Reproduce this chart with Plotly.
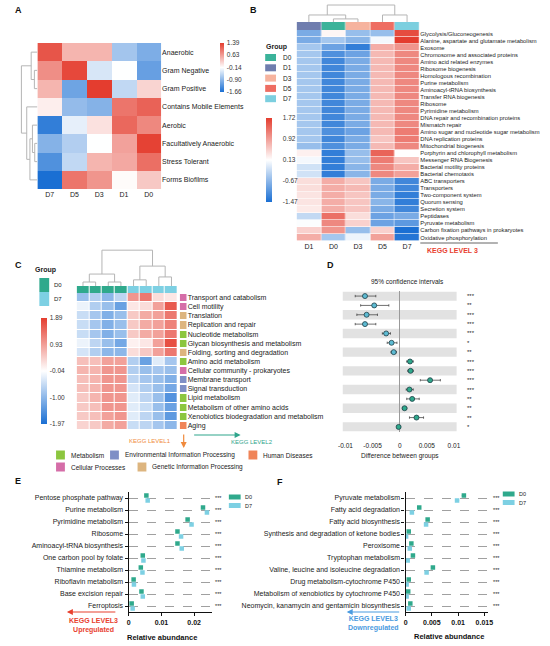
import plotly.graph_objects as go

W, H = 550, 646
FONT = 'Arial, Liberation Sans, sans-serif'

# ---------------- Panel A : phenotype heatmap ----------------
a_cols = ['D7', 'D5', 'D3', 'D1', 'D0']
a_rows = ['Anaerobic', 'Gram Negative', 'Gram Positive', 'Contains Mobile Elements',
          'Aerobic', 'Facultatively Anaerobic', 'Stress Tolerant', 'Forms Biofilms']
a_z = [
    [1.20, 0.45, 0.45, -0.75, -1.00],
    [0.75, 1.30, -0.40, -0.14, -1.15],
    [0.45, -1.10, 1.39, -0.55, 0.20],
    [0.00, -0.85, -0.95, 0.95, 1.10],
    [-1.50, -0.30, 0.10, 1.05, 0.80],
    [-0.95, -0.65, -0.14, 0.60, 1.35],
    [-1.30, -0.55, 0.45, 0.55, 1.00],
    [-1.66, 0.95, 0.70, -0.10, 0.30],
]
a_ticks = [1.39, 0.63, -0.14, -0.90, -1.66]
a_link = [(1, 2, 0.17), (0, 8, 0.35), (5, 6, 0.15), (4, 10, 0.28),
          (11, 7, 0.42), (3, 12, 0.60), (9, 13, 0.90)]

# ---------------- Panel B : KEGG level 3 heatmap ----------------
groups = ['D0', 'D1', 'D3', 'D5', 'D7']
group_colors = ['#3BB39A', '#6F7DAE', '#F6B39E', '#EE6D62', '#7CCFDF']
b_cols = ['D1', 'D0', 'D3', 'D5', 'D7']
b_rows = ['Glycolysis/Gluconeogenesis', 'Alanine, aspartate and glutamate metabolism', 'Exosome',
          'Chromosome and associated proteins', 'Amino acid related enzymes', 'Ribosome biogenesis',
          'Homologous recombination', 'Purine metabolism', 'Aminoacyl-tRNA biosynthesis',
          'Transfer RNA biogenesis', 'Ribosome', 'Pyrimidine metabolism',
          'DNA repair and recombination proteins', 'Mismatch repair',
          'Amino sugar and nucleotide sugar metabolism', 'DNA replication proteins',
          'Mitochondrial biogenesis', 'Porphyrin and chlorophyll metabolism',
          'Messenger RNA Biogenesis', 'Bacterial motility proteins', 'Bacterial chemotaxis',
          'ABC transporters', 'Transporters', 'Two-component system', 'Quorum sensing',
          'Secretion system', 'Peptidases', 'Pyruvate metabolism',
          'Carbon fixation pathways in prokaryotes', 'Oxidative phosphorylation']
b_z = [
    [-0.80, 0.20, -0.60, -0.60, 1.60],
    [-0.80, -0.50, -0.70, 0.05, 1.72],
    [-0.50, -0.90, -1.30, 0.80, 1.00],
    [-0.50, -1.10, -0.90, 0.70, 1.10],
    [-0.50, -1.20, -0.80, 0.70, 1.10],
    [-0.50, -1.20, -0.80, 0.70, 1.10],
    [-0.50, -1.20, -0.80, 0.70, 1.10],
    [-0.50, -1.20, -0.80, 0.70, 1.10],
    [-0.50, -1.20, -0.80, 0.70, 1.10],
    [-0.50, -1.20, -0.80, 0.70, 1.10],
    [-0.50, -1.20, -0.80, 0.70, 1.10],
    [-0.50, -1.20, -0.80, 0.70, 1.10],
    [-0.50, -1.20, -0.80, 0.70, 1.10],
    [-0.50, -1.20, -0.80, 0.70, 1.10],
    [-0.50, -1.10, -0.90, 0.70, 1.20],
    [-0.50, -1.20, -0.80, 0.60, 1.20],
    [-0.60, -1.10, -0.80, 0.70, 1.10],
    [0.25, -1.30, -0.60, 1.40, 0.13],
    [0.05, -1.30, -0.60, 1.20, 0.60],
    [-0.20, -1.30, -0.70, 1.10, 0.80],
    [-0.20, -1.30, -0.70, 1.10, 0.90],
    [0.40, 0.80, 0.60, -0.80, -1.20],
    [0.40, 0.80, 0.70, -0.80, -1.20],
    [0.35, 0.80, 0.60, -0.80, -1.30],
    [0.35, 0.80, 0.60, -0.70, -1.30],
    [0.30, 0.80, 0.60, -0.80, -1.20],
    [-0.30, 1.30, 0.40, -0.90, -0.80],
    [0.10, 1.10, 0.50, -0.90, -1.00],
    [0.50, 1.00, -0.60, 0.50, -1.47],
    [0.80, -0.50, 0.00, 0.90, -1.40],
]
b_ticks = [1.72, 0.92, 0.13, -0.67, -1.47]
b_link = [(1, 2, 0.18), (0, 5, 0.41), (3, 4, 0.41), (6, 7, 0.99)]

# ---------------- Panel C : KEGG level 2 heatmap ----------------
categories = ['Metabolism', 'Environmental Information Processing', 'Human Diseases',
              'Cellular Processes', 'Genetic Information Processing']
cat_colors = ['#8CC63F', '#7F8FC6', '#F08458', '#D56DA8', '#DDB57F']
c_samples = ['D0_1', 'D0_2', 'D0_3', 'D0_4', 'D7_1', 'D7_2', 'D7_3', 'D7_4']
c_sample_group = ['D0', 'D0', 'D0', 'D0', 'D7', 'D7', 'D7', 'D7']
c_rows = ['Transport and catabolism', 'Cell motility', 'Translation', 'Replication and repair',
          'Nucleotide metabolism', 'Glycan biosynthesis and metabolism',
          'Folding, sorting and degradation', 'Amino acid metabolism',
          'Cellular community - prokaryotes', 'Membrane transport', 'Signal transduction',
          'Lipid metabolism', 'Metabolism of other amino acids',
          'Xenobiotics biodegradation and metabolism', 'Aging']
c_row_cat = ['Cellular Processes', 'Cellular Processes', 'Genetic Information Processing',
             'Genetic Information Processing', 'Metabolism', 'Metabolism',
             'Genetic Information Processing', 'Metabolism', 'Cellular Processes',
             'Environmental Information Processing', 'Environmental Information Processing',
             'Metabolism', 'Metabolism', 'Metabolism', 'Human Diseases']
c_z = [
    [-0.90, -0.70, -1.00, -0.60, 1.00, 1.30, 0.30, 0.20],
    [-0.20, -0.70, -0.90, -1.30, 0.20, 0.30, 0.90, 1.60],
    [-0.50, -0.80, -1.10, -0.90, 0.50, 0.80, 0.90, 1.30],
    [-0.50, -0.80, -1.10, -0.90, 0.50, 0.80, 0.90, 1.20],
    [-0.50, -0.80, -1.10, -0.90, 0.50, 0.80, 0.90, 1.30],
    [-0.20, -0.60, -0.90, -1.20, 0.10, 0.20, 0.90, 1.70],
    [-0.40, -0.70, -1.00, -1.00, 0.30, 0.50, 0.90, 1.30],
    [0.60, 0.60, 0.90, 0.90, -0.70, -1.30, -0.30, -0.80],
    [0.70, 0.70, 1.00, 1.00, -0.70, -0.90, -0.80, -0.90],
    [0.60, 0.70, 1.00, 1.00, -0.60, -0.80, -0.90, -1.10],
    [0.60, 0.70, 1.00, 1.00, -0.40, -0.70, -0.90, -1.20],
    [0.50, 0.70, 1.00, 1.00, -0.30, -0.60, -0.90, -1.50],
    [0.50, 0.60, 1.00, 1.00, -0.30, -0.50, -0.90, -1.30],
    [0.50, 0.60, 0.90, 1.00, -0.30, -0.60, -0.90, -1.40],
    [0.40, 0.50, 0.80, 0.90, -0.50, -0.60, -0.80, -1.00],
]
c_ticks = [1.89, 0.93, -0.04, -1.00, -1.97]
c_link = [(0, 1, 0.11), (2, 3, 0.11), (8, 9, 0.33), (4, 5, 0.17),
          (6, 7, 0.25), (11, 12, 0.55), (10, 13, 0.99)]

# ---------------- Panel D : 95% CI of differences ----------------
d_mean = [-0.0064, -0.0047, -0.0061, -0.0064, -0.0025, -0.0015, -0.0011,
          0.0019, 0.0020, 0.0056, 0.0018, 0.0023, 0.0009, 0.0031, -0.0002]
d_low = [-0.0082, -0.0072, -0.0079, -0.0082, -0.0032, -0.0023, -0.0016,
         0.0013, 0.0015, 0.0038, 0.0012, 0.0013, 0.0005, 0.0018, -0.0004]
d_high = [-0.0044, -0.0020, -0.0041, -0.0044, -0.0017, -0.0005, -0.0006,
          0.0025, 0.0025, 0.0075, 0.0025, 0.0036, 0.0013, 0.0044, 0.0000]
d_group = ['D7'] * 7 + ['D0'] * 8
d_sig = ['***', '**', '***', '***', '***', '*', '**', '***', '***', '***', '***', '**', '**', '**', '*']

# ---------------- Panel E : upregulated level 3 ----------------
e_rows = ['Pentose phosphate pathway', 'Purine metabolism', 'Pyrimidine metabolism', 'Ribosome',
          'Aminoacyl-tRNA biosynthesis', 'One carbon pool by folate', 'Thiamine metabolism',
          'Riboflavin metabolism', 'Base excision repair', 'Ferroptosis']
e_d0 = [0.0054, 0.0227, 0.0180, 0.0149, 0.0149, 0.0043, 0.0037, 0.0015, 0.0039, 0.0009]
e_d7 = [0.0058, 0.0239, 0.0192, 0.0160, 0.0162, 0.0045, 0.0042, 0.0016, 0.0043, 0.0012]
e_err = [0.0003, 0.0004, 0.0003, 0.0003, 0.0003, 0.0002, 0.0002, 0.0002, 0.0002, 0.0002]
e_sig = ['***'] * 10

# ---------------- Panel F : downregulated level 3 ----------------
f_rows = ['Pyruvate metabolism', 'Fatty acid degradation', 'Fatty acid biosynthesis',
          'Synthesis and degradation of ketone bodies', 'Peroxisome', 'Tryptophan metabolism',
          'Valine, leucine and isoleucine degradation', 'Drug metabolism-cytochrome P450',
          'Metabolism of xenobiotics by cytochrome P450',
          'Neomycin, kanamycin and gentamicin biosynthesis']
f_d0 = [0.0111, 0.0026, 0.0042, 0.0006, 0.0011, 0.0014, 0.0052, 0.0006, 0.0005, 0.0009]
f_d7 = [0.0098, 0.0012, 0.0039, 0.0001, 0.0008, 0.0004, 0.0040, 0.0002, 0.0002, 0.0006]
f_err = [0.0004, 0.0002, 0.0002, 0.0001, 0.0001, 0.0001, 0.0002, 0.0001, 0.0001, 0.0001]
f_sig = ['***'] * 10

HEAT = [[0, '#1A6FD3'], [0.5, '#FFFFFF'], [1, '#E43D2F']]
TEAL, CYAN = '#2FA98C', '#7DD0E3'


def px(x):
    return x / W


def py(y):
    return 1 - y / H


def disc_scale(colors):
    n = len(colors) - 1
    return [[i / n, c] for i, c in enumerate(colors)]


def dendro(n, links):
    """Return U-shaped line coords for a linkage list of (a, b, height)."""
    pos = list(range(n))
    hgt = [0.0] * n
    xs, ys = [], []
    for a, b, h in links:
        xs += [pos[a], pos[a], pos[b], pos[b], None]
        ys += [hgt[a], h, h, hgt[b], None]
        pos.append((pos[a] + pos[b]) / 2)
        hgt.append(h)
    return xs, ys


def cbar(x, top, length, thick, ticks, ticklen=0):
    return dict(x=px(x), xanchor='left', y=py(top), yanchor='top', len=length, lenmode='pixels',
                thickness=thick, thicknessmode='pixels', xpad=0, ypad=0, outlinewidth=0,
                tickvals=ticks, ticktext=['%.2f' % t for t in ticks], ticks='outside',
                ticklen=ticklen, tickcolor='rgba(0,0,0,0)', tickfont=dict(size=6.5, color='#333'))


fig = go.Figure()
layout = {}


def axes(n, x0, x1, y0, y1, xa=None, ya=None):
    sx = '' if n == 1 else str(n)
    base = dict(showgrid=False, zeroline=False, showline=False, ticks='', showticklabels=False,
                fixedrange=True)
    xd = dict(base, domain=[px(x0), px(x1)], anchor='y' + sx)
    yd = dict(base, domain=[py(y1), py(y0)], anchor='x' + sx)
    xd.update(xa or {})
    yd.update(ya or {})
    layout['xaxis' + sx] = xd
    layout['yaxis' + sx] = yd
    return 'x' + sx, 'y' + sx


GRAYLINE = dict(color='#B5B5B5', width=1)

# ---- A ----
xa, ya = axes(1, 33, 159, 43, 189,
              dict(showticklabels=True, tickfont=dict(size=7)),
              dict(showticklabels=True, side='right', autorange='reversed', tickfont=dict(size=7)))
fig.add_trace(go.Heatmap(z=a_z, x=a_cols, y=a_rows, xaxis=xa, yaxis=ya, colorscale=HEAT,
                         zmin=min(a_ticks), zmax=max(a_ticks),
                         colorbar=cbar(219, 43, 49, 4, a_ticks, 2)))
xa, ya = axes(2, 14, 33, 43, 189, dict(range=[1.05, 0]), dict(range=[len(a_rows) - 0.5, -0.5]))
hx, hy = dendro(len(a_rows), a_link)
fig.add_trace(go.Scatter(x=hy, y=hx, xaxis=xa, yaxis=ya, mode='lines', line=GRAYLINE,
                         showlegend=False, hoverinfo='skip'))

# ---- B ----
xa, ya = axes(3, 297, 422, 30, 241,
              dict(showticklabels=True, tickfont=dict(size=7)),
              dict(showticklabels=True, side='right', autorange='reversed', tickfont=dict(size=5.8)))
fig.add_trace(go.Heatmap(z=b_z, x=b_cols, y=b_rows, xaxis=xa, yaxis=ya, colorscale=HEAT,
                         zmin=min(b_ticks), zmax=max(b_ticks), xgap=0.5, ygap=0.6,
                         colorbar=cbar(266, 118, 84, 6, b_ticks, 10)))
xa, ya = axes(4, 297, 422, 22, 30)
fig.add_trace(go.Heatmap(z=[[groups.index(c) for c in b_cols]], x=b_cols, y=['group'],
                         xaxis=xa, yaxis=ya, colorscale=disc_scale(group_colors), zmin=0,
                         zmax=len(groups) - 1, showscale=False, xgap=0.5))
xa, ya = axes(5, 297, 422, 4, 22, dict(range=[-0.5, len(b_cols) - 0.5]), dict(range=[0, 1.05]))
dx, dy = dendro(len(b_cols), b_link)
fig.add_trace(go.Scatter(x=dx, y=dy, xaxis=xa, yaxis=ya, mode='lines', line=GRAYLINE,
                         showlegend=False, hoverinfo='skip'))

# ---- C ----
xa, ya = axes(6, 73, 176, 293, 430, None, dict(autorange='reversed'))
fig.add_trace(go.Heatmap(z=c_z, x=c_samples, y=c_rows, xaxis=xa, yaxis=ya, colorscale=HEAT,
                         zmin=min(c_ticks), zmax=max(c_ticks), xgap=1, ygap=1,
                         colorbar=cbar(37, 318, 106, 6, c_ticks, 2)))
xa, ya = axes(7, 73, 176, 286, 293)
fig.add_trace(go.Heatmap(z=[[['D0', 'D7'].index(g) for g in c_sample_group]], x=c_samples,
                         y=['group'], xaxis=xa, yaxis=ya, colorscale=disc_scale([TEAL, CYAN]),
                         zmin=0, zmax=1, showscale=False, xgap=1))
xa, ya = axes(8, 73, 176, 248, 286, dict(range=[-0.5, len(c_samples) - 0.5]), dict(range=[0, 1.05]))
dx, dy = dendro(len(c_samples), c_link)
fig.add_trace(go.Scatter(x=dx, y=dy, xaxis=xa, yaxis=ya, mode='lines', line=GRAYLINE,
                         showlegend=False, hoverinfo='skip'))
xa, ya = axes(9, 178, 185, 293, 430, None,
              dict(showticklabels=True, side='right', autorange='reversed', tickfont=dict(size=7)))
fig.add_trace(go.Heatmap(z=[[categories.index(c)] for c in c_row_cat], x=['cat'], y=c_rows,
                         xaxis=xa, yaxis=ya, colorscale=disc_scale(cat_colors), zmin=0,
                         zmax=len(categories) - 1, showscale=False, ygap=2))

# ---- D ----
nD = len(d_mean)
xa, ya = axes(10, 344, 460, 291.4, 431.6,
              dict(range=[-0.0105, 0.0105], showticklabels=True, zeroline=True,
                   zerolinecolor='#9A9A9A', zerolinewidth=0.8,
                   tickvals=[-0.01, -0.005, 0, 0.005, 0.01],
                   ticktext=['-0.01', '-0.005', '0', '0.005', '0.01'],
                   tickfont=dict(size=6.5), ticklabelstandoff=9),
              dict(range=[nD - 0.5, -0.5]))
shapes = []
for i in range(0, nD, 2):
    shapes.append(dict(type='rect', xref='x10 domain', x0=0, x1=1, yref='y10', y0=i - 0.5,
                       y1=i + 0.5, fillcolor='#E2E2E2', line_width=0, layer='below'))
for g, col in (('D7', '#5DBBD3'), ('D0', TEAL)):
    idx = [i for i in range(nD) if d_group[i] == g]
    fig.add_trace(go.Scatter(
        x=[d_mean[i] for i in idx], y=idx, xaxis=xa, yaxis=ya, mode='markers',
        marker=dict(size=5, color=col, line=dict(color='#1E3F46', width=0.8)),
        error_x=dict(type='data', symmetric=False,
                     array=[d_high[i] - d_mean[i] for i in idx],
                     arrayminus=[d_mean[i] - d_low[i] for i in idx],
                     color='#333', thickness=0.7, width=1.2),
        showlegend=False, hoverinfo='skip'))

# ---- E / F ----
def dot_axes(n, x0, x1, rows, xmax, tickvals, ticktext):
    return axes(n, x0, x1, 492, 612,
                dict(range=[0, xmax], showticklabels=True, showline=True, linecolor='#111',
                     linewidth=1.4, ticks='outside', ticklen=3, tickcolor='#111',
                     tickvals=tickvals, ticktext=ticktext,
                     tickfont=dict(size=7, weight='bold', color='#111')),
                dict(range=[len(rows) - 0.5, -0.5], tickvals=list(range(len(rows))),
                     ticktext=rows, showticklabels=True, showline=True, linecolor='#111',
                     linewidth=1.4, ticks='outside', ticklen=3, tickcolor='#111',
                     showgrid=True, gridcolor='#A0A0A0', gridwidth=0.7, griddash='dash',
                     tickfont=dict(size=7, color='#222')))


def dots(xa, ya, d0, d7, err):
    n = len(d0)
    for vals, col, off in ((d0, TEAL, -0.2), (d7, CYAN, 0.2)):
        fig.add_trace(go.Scatter(
            x=vals, y=[i + off for i in range(n)], xaxis=xa, yaxis=ya, mode='markers',
            marker=dict(size=4.5, color=col, symbol='square'),
            error_x=dict(type='data', array=err, color=col, thickness=0.8, width=0),
            showlegend=False, hoverinfo='skip'))


xa, ya = dot_axes(11, 126, 211, e_rows, 0.0255, [0, 0.01, 0.02], ['0', '0.01', '0.02'])
dots(xa, ya, e_d0, e_d7, e_err)
xa, ya = dot_axes(12, 408, 492, f_rows, 0.0157, [0, 0.005, 0.01, 0.015],
                  ['0', '0.005', '0.01', '0.015'])
dots(xa, ya, f_d0, f_d7, f_err)

# ---- annotations and decorations ----
ann = []


def text(x, y, s, size=7, color='#222', anchor='left', bold=False, yref=None):
    ann.append(dict(x=px(x), y=py(y) if yref is None else y, xref='paper',
                    yref='paper' if yref is None else yref, text=s, showarrow=False,
                    xanchor=anchor, yanchor='middle',
                    font=dict(size=size, color=color, weight='bold' if bold else 'normal')))


def box(x0, x1, y0, y1, color):
    shapes.append(dict(type='rect', xref='paper', yref='paper', x0=px(x0), x1=px(x1),
                       y0=py(y1), y1=py(y0), fillcolor=color, line_width=0))


def arrow(xh, yh, ax, ay, color):
    ann.append(dict(x=px(xh), y=py(yh), xref='paper', yref='paper', text='', showarrow=True,
                    ax=ax, ay=ay, arrowhead=2, arrowsize=1, arrowwidth=1.2, arrowcolor=color))


for s, x, y in (('A', 8, 10), ('B', 247, 10), ('C', 8, 265), ('D', 326, 265),
                ('E', 8, 481), ('F', 275, 482)):
    text(x, y, s, size=9, color='#111', bold=True)

# B group legend + level label
text(264, 47, 'Group', size=7, bold=True)
for i, g in enumerate(groups):
    box(265, 276, 54 + 10.3 * i, 61 + 10.3 * i, group_colors[i])
    text(281, 57.5 + 10.3 * i, g, size=6.5)
shapes.append(dict(type='line', xref='paper', yref='paper', x0=px(423), x1=px(502),
                   y0=py(243), y1=py(243), line=dict(color='#666', width=1)))
text(456, 250, 'KEGG LEVEL 3', size=7, color='#E8412F', anchor='center', bold=True)

# C group legend, level arrows, category legend
text(29, 270, 'Group', size=7, bold=True)
box(35, 45, 278, 292, TEAL)
box(35, 45, 292, 306, CYAN)
text(48, 285, 'D0', size=6)
text(48, 299, 'D7', size=6)
arrow(182, 448, 0, -15, '#F08A3C')
text(148, 441, 'KEGG LEVEL1', size=6, color='#F08A3C', anchor='center')
arrow(240, 435, -48, 0, '#2FA58C')
text(252, 442, 'KEGG LEVEL2', size=6, color='#2FA58C', anchor='center')
leg = [(52, 455, 0), (107, 455, 1), (248, 455, 2), (52, 467, 3), (135, 467, 4)]
for x, y, k in leg:
    box(x, x + 9, y - 4.5, y + 4.5, cat_colors[k])
    text(x + 13, y, categories[k], size=6.5)

# D title, labels, significance
text(410, 282, '95% confidence intervals', size=6.5, anchor='center')
text(402, 456, 'Difference between groups', size=6.5, anchor='center')
for i, s in enumerate(d_sig):
    text(469, i, s, size=6, anchor='left', yref='y10')

# E / F significance, legends, titles, arrows
for i, s in enumerate(e_sig):
    text(212, i, s, size=5.5, anchor='left', yref='y11')
for i, s in enumerate(f_sig):
    text(495, i, s, size=5.5, anchor='left', yref='y12')
for lx, ly in ((228, 497), (507, 494)):
    box(lx, lx + 12, ly - 2.5, ly + 2.5, TEAL)
    box(lx, lx + 12, ly + 6, ly + 11, CYAN)
    text(lx + 14, ly, 'D0', size=5.5)
    text(lx + 14, ly + 8.5, 'D7', size=5.5)
text(160, 637, 'Relative abundance', size=7.5, color='#111', anchor='center', bold=True)
text(452, 636, 'Relative abundance', size=7.5, color='#111', anchor='center', bold=True)
arrow(63, 612, 50, 0, '#E8412F')
text(90, 625, 'KEGG LEVEL3<br>Upregulated', size=7, color='#E8412F', anchor='center', bold=True)
arrow(348, 612, 54, 0, '#4A9BE0')
text(375, 623, 'KEGG LEVEL3<br>Downregulated', size=7, color='#4A9BE0', anchor='center', bold=True)

fig.update_layout(
    width=W, height=H, margin=dict(l=0, r=0, t=0, b=0),
    paper_bgcolor='white', plot_bgcolor='rgba(0,0,0,0)',
    font=dict(family=FONT, color='#222', size=7),
    showlegend=False, shapes=shapes, annotations=ann, **layout)

# the page body has a default 8px margin; remove it so the figure fills the window
fig.write_html("out.html", config={'displayModeBar': False},
               post_script="document.body.style.margin='0';"
                           "document.body.style.overflow='hidden';")
